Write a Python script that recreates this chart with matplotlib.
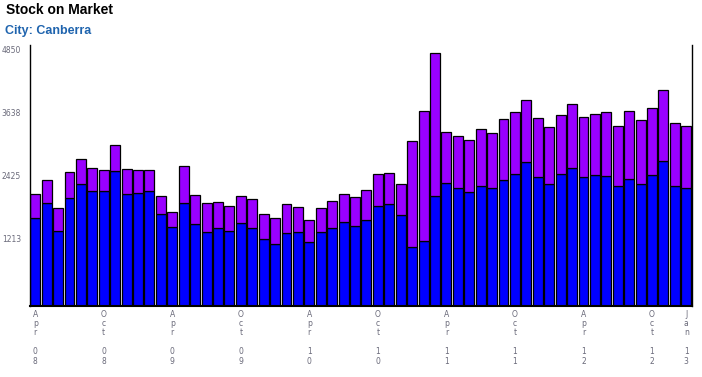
# Stock on market chart, Canberra
import matplotlib.pyplot as plt
import numpy as np

months = ['Apr 08', 'May 08', 'Jun 08', 'Jul 08', 'Aug 08', 'Sep 08', 'Oct 08', 'Nov 08', 'Dec 08',
          'Jan 09', 'Feb 09', 'Mar 09', 'Apr 09', 'May 09', 'Jun 09', 'Jul 09', 'Aug 09', 'Sep 09',
          'Oct 09', 'Nov 09', 'Dec 09', 'Jan 10', 'Feb 10', 'Mar 10', 'Apr 10', 'May 10', 'Jun 10',
          'Jul 10', 'Aug 10', 'Sep 10', 'Oct 10', 'Nov 10', 'Dec 10', 'Jan 11', 'Feb 11', 'Mar 11',
          'Apr 11', 'May 11', 'Jun 11', 'Jul 11', 'Aug 11', 'Sep 11', 'Oct 11', 'Nov 11', 'Dec 11',
          'Jan 12', 'Feb 12', 'Mar 12', 'Apr 12', 'May 12', 'Jun 12', 'Jul 12', 'Aug 12', 'Sep 12',
          'Oct 12', 'Nov 12', 'Dec 12', 'Jan 13']
shown_labels = ['Apr 08', 'Oct 08', 'Apr 09', 'Oct 09', 'Apr 10', 'Oct 10',
                'Apr 11', 'Oct 11', 'Apr 12', 'Oct 12', 'Jan 13']

# total stock (top of the bar) and the blue lower part
total = [2130, 2400, 1865, 2555, 2810, 2630, 2595, 3075, 2610, 2595, 2595, 2095, 1790, 2670, 2115,
         1960, 1980, 1905, 2095, 2035, 1750, 1675, 1940, 1885, 1635, 1865, 2000, 2135, 2075, 2210,
         2515, 2535, 2325, 3150, 3725, 4850, 3320, 3245, 3170, 3380, 3300, 3570, 3705, 3935, 3590,
         3415, 3650, 3860, 3610, 3670, 3705, 3435, 3725, 3550, 3785, 4130, 3495, 3435]
lower = [1670, 1960, 1430, 2060, 2325, 2190, 2190, 2575, 2130, 2160, 2190, 1765, 1500, 1960, 1555,
         1405, 1480, 1430, 1575, 1480, 1270, 1190, 1385, 1405, 1210, 1405, 1480, 1595, 1535, 1640,
         1900, 1940, 1730, 1115, 1230, 2095, 2345, 2255, 2170, 2285, 2245, 2400, 2515, 2750, 2460,
         2325, 2515, 2630, 2460, 2495, 2475, 2285, 2420, 2325, 2495, 2765, 2285, 2245]
y_ticks = [1213, 2425, 3638, 4850]

total = np.array(total)
lower = np.array(lower)
upper = total - lower
x = np.arange(len(months))

f = plt.figure(figsize=(7.02, 3.77), dpi=100)
ax = f.add_axes([29.5 / 702, 71.4 / 377, (692 - 29.5) / 702, (305.6 - 45) / 377])

ax.bar(x, lower, width=0.87, color='#0000ff', edgecolor='black', linewidth=0.9)
ax.bar(x, upper, bottom=lower, width=0.87, color='#9900ff', edgecolor='black', linewidth=0.9)

ax.set_xlim(-0.5, len(months) - 0.5)
ax.set_ylim(0, 4996)

ax.set_yticks(y_ticks)
# labels sit a little above their value in the original
ax.set_yticklabels([str(v) for v in y_ticks], fontsize=5.5, color='#6a6a7a',
                   family='DejaVu Sans', va='baseline')

pos = [months.index(m) for m in shown_labels]
vert = ['\n'.join(m.split(' ')[0]) + '\n\n' + '\n'.join(m.split(' ')[1]) for m in shown_labels]
ax.set_xticks(pos)
ax.set_xticklabels(vert, fontsize=5.5, color='#6a6a7a', family='DejaVu Sans', linespacing=1.05)
ax.tick_params(length=0)
ax.tick_params(axis='y', pad=6)
ax.tick_params(axis='x', pad=3)

ax.spines['top'].set_visible(False)
ax.spines['left'].set_linewidth(1.0)
ax.spines['right'].set_linewidth(1.0)
ax.spines['bottom'].set_linewidth(1.5)

f.text(6 / 702, 1 - 10 / 377, 'Stock on Market', fontsize=10, fontweight='bold',
       family='Liberation Sans', va='center', ha='left')
f.text(5 / 702, 1 - 31 / 377, 'City: Canberra', fontsize=9, fontweight='bold',
       family='Liberation Sans', color='#1f64ae', va='center', ha='left')

f.savefig('out.png', dpi=100)
